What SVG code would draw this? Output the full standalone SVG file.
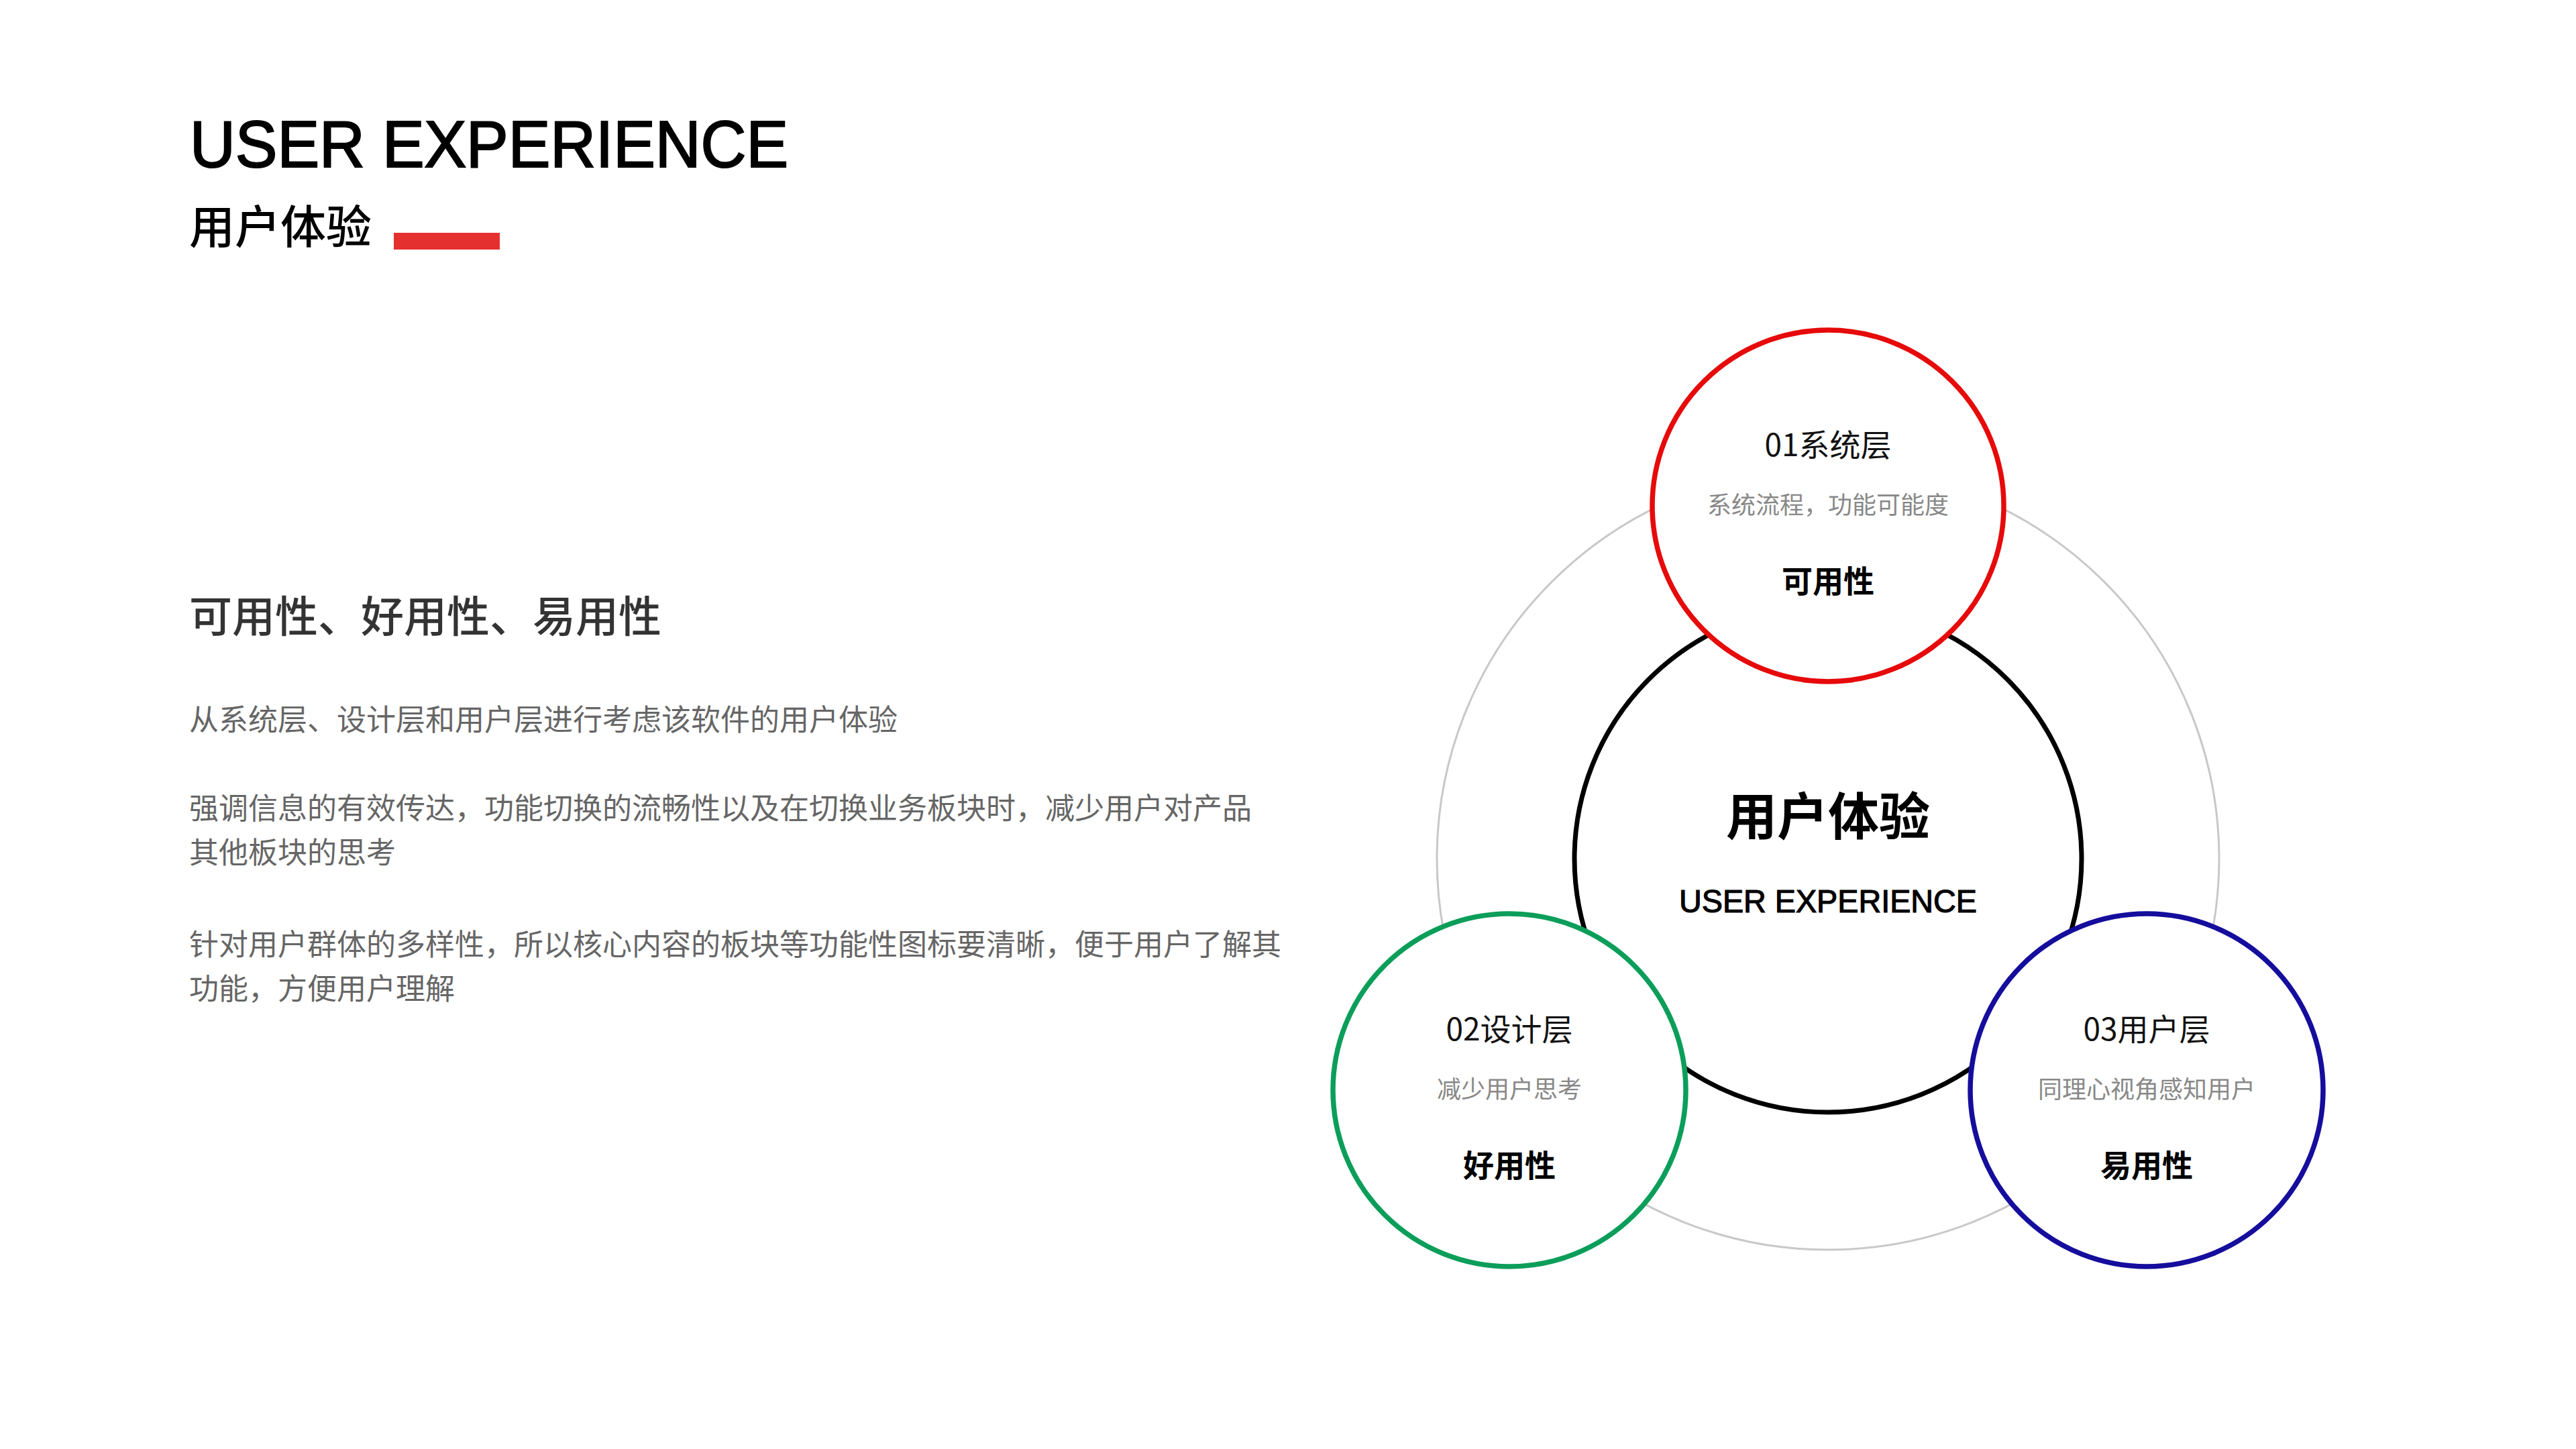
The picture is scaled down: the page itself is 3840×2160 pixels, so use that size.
<svg xmlns="http://www.w3.org/2000/svg" width="3840" height="2160" viewBox="0 0 3840 2160">
<style>
.cjk{font-family:"Noto Sans CJK SC","Noto Sans",sans-serif}
.lat{font-family:"Liberation Sans",Arial,sans-serif}
.para{font-family:"Noto Sans CJK SC",sans-serif;font-size:44px;fill:#666}
.ntitle{font-family:"Noto Sans CJK SC",sans-serif;font-size:46px;fill:#111;text-anchor:middle}
.nsub{font-family:"Noto Sans CJK SC",sans-serif;font-size:36px;fill:#888;text-anchor:middle}
.nbold{font-family:"Noto Sans CJK SC",sans-serif;font-size:46px;font-weight:700;fill:#000;text-anchor:middle}
.node{fill:#fff;stroke-width:7.5}
</style>
<rect width="3840" height="2160" fill="#fff"/>
<g id="header">
<text class="lat" x="283" y="249" font-size="99" textLength="892" lengthAdjust="spacingAndGlyphs" fill="#000" stroke="#000" stroke-width="2.2">USER EXPERIENCE</text>
<text class="cjk" x="282" y="363" font-size="68" font-weight="500" fill="#000">用户体验</text>
<rect x="587" y="347" width="158" height="25" fill="#e53030"/>
</g>
<g id="description">
<text class="cjk" x="282" y="942" font-size="64" font-weight="500" fill="#333">可用性、好用性、易用性</text>
<text class="para" x="282" y="1089">从系统层、设计层和用户层进行考虑该软件的用户体验</text>
<text class="para" x="282" y="1221">强调信息的有效传达，功能切换的流畅性以及在切换业务板块时，减少用户对产品</text>
<text class="para" x="282" y="1287">其他板块的思考</text>
<text class="para" x="282" y="1424">针对用户群体的多样性，所以核心内容的板块等功能性图标要清晰，便于用户了解其</text>
<text class="para" x="282" y="1490">功能，方便用户理解</text>
</g>
<g id="connectors">
<circle cx="2725" cy="1280" r="583" fill="none" stroke="#c8c8c8" stroke-width="3"/>
</g>
<g id="center-node">
<circle cx="2725" cy="1280" r="378" fill="#fff" stroke="#000" stroke-width="7"/>
<text class="cjk" x="2725" y="1245" font-size="76" font-weight="700" fill="#000" text-anchor="middle">用户体验</text>
<text class="lat" x="2725" y="1360" font-size="48" fill="#000" stroke="#000" stroke-width="1.2" text-anchor="middle" textLength="444" lengthAdjust="spacingAndGlyphs">USER EXPERIENCE</text>
</g>
<g id="node-01">
<circle class="node" cx="2725" cy="754" r="262" stroke="#e60a0a"/>
<text class="ntitle" x="2725" y="680">01系统层</text>
<text class="nsub" x="2725" y="766">系统流程，功能可能度</text>
<text class="nbold" x="2725" y="883">可用性</text>
</g>
<g id="node-02">
<circle class="node" cx="2250" cy="1625" r="263" stroke="#0b9e5a"/>
<text class="ntitle" x="2250" y="1551">02设计层</text>
<text class="nsub" x="2250" y="1637">减少用户思考</text>
<text class="nbold" x="2250" y="1754">好用性</text>
</g>
<g id="node-03">
<circle class="node" cx="3200" cy="1625" r="263" stroke="#150d9c"/>
<text class="ntitle" x="3200" y="1551">03用户层</text>
<text class="nsub" x="3200" y="1637">同理心视角感知用户</text>
<text class="nbold" x="3200" y="1754">易用性</text>
</g>
</svg>
